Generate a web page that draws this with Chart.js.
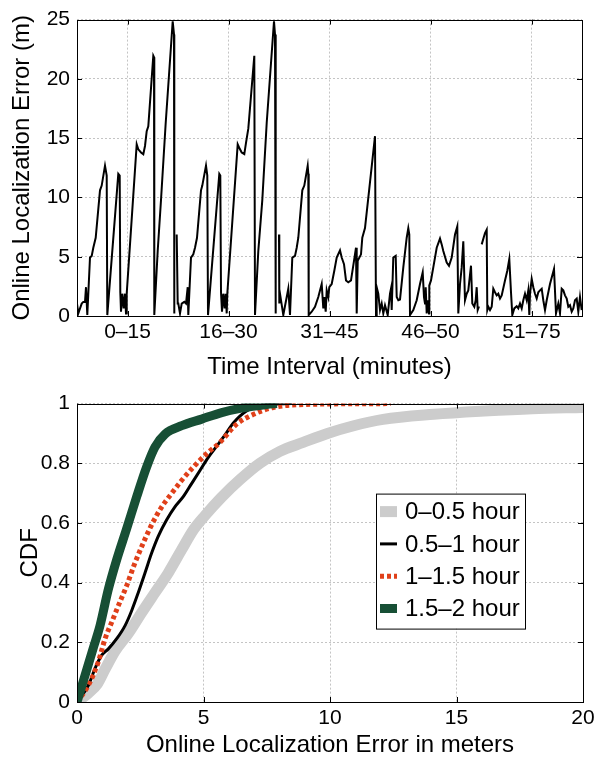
<!DOCTYPE html>
<html>
<head>
<meta charset="utf-8">
<script src="https://cdn.jsdelivr.net/npm/chart.js@4"></script>
<style>
body { margin: 0; background: #fff; }
.panel { width: 605px; height: 384px; }
canvas { display: block; }
</style>
</head>
<body>
<div class="panel"><canvas id="timeChart" width="605" height="384"></canvas></div>
<div class="panel"><canvas id="cdfChart" width="605" height="384"></canvas></div>
<script>
// --- top panel: error over time (x = sample index, ~101 samples per interval)
const intervals = ["0\u201315", "16\u201330", "31\u201345", "46\u201350", "51\u201375"];
const intervalMid = [50.5, 151.5, 252.5, 353.5, 454.5];

const sampleIdx = [
  0, 1.3, 4.7, 6.3, 8, 9, 10.3, 13, 14.7, 16.3, 18.7, 23, 24.7, 28, 29.7, 30.3,
  41.3, 42.7, 43.3, 44, 45.3, 46.7, 48, 49, 49.7, 59.7, 61.3, 64, 66.3, 68, 69.7, 71.3,
  76.3, 77, 77.3, 80.7, 84, 88.7, 95.7, 97, 97.3, 98.5, 99.7, 100.7,
  101.3, 103, 104.7, 107.3, 109, 110.7, 111.3, 114, 116.3, 118, 120, 124, 125.3, 129, 130.3, 131,
  142.3, 143.3, 144, 145, 146.3, 147.7, 148.7, 149.7, 150.3, 160.7, 163, 164.7, 167.3, 169, 171.3,
  177.3, 178, 181.3, 185.3, 189.7, 197, 198, 198.7, 200, 202, 202.3,
  203, 206.3, 211.3, 213, 215.3, 218, 219.7, 221.3, 225.3, 227.3, 230.7, 231.3, 231.7,
  234.7, 238, 241.3, 244.7, 246.3, 247.3, 248.7, 249.7, 251.3, 252.3, 254.7, 257.3, 259.7,
  263, 264.7, 267, 269, 271.3, 274, 277, 279, 279.7, 280.7, 284, 285.3, 288, 292.3, 298, 299,
  299.7, 301.3, 303, 304.7, 306.3, 308, 310.7, 313, 314, 314.7, 316.3, 318.7, 319.7, 321.3, 323,
  326.3, 329.7, 331.3, 332.3, 333, 336.3, 339.7, 343, 345.7, 347, 348, 348.7, 349.7, 350.7, 352,
  352.3, 354, 356.3, 359.7, 363, 364.7, 366.3, 369.7, 372, 374.7, 378, 380.3, 381.3, 383, 384.7,
  386.3, 388, 389.7, 391.3, 394, 395.3, 397.3, 398.7, 399.7, 400.7, 402, 403,
  404.7, 408, 409.7, 410.3, 411.3, 413, 414.7, 416.3, 418, 419.7, 421.3, 423, 424.7, 428, 430.3,
  432.3, 434, 435.3, 437.3, 439.7, 441.3, 443, 444.7, 446.3, 448, 449.7, 451.3, 452.3, 453, 454.7,
  456.3, 458, 459.7, 461.3, 463, 464.7, 466.3, 468, 469.7, 473, 477, 479, 481.3, 483, 484.7,
  486.3, 488, 489.7, 491.3, 493, 494.7, 496.3, 498, 499.7, 501.3, 503, 504.7
];
const errorM = [
  1.05, 0.22, 1.05, 1.19, 1.19, 2.43, 0.08, 4.93, 5.07, 5.76, 6.6, 10.6, 11.0, 12.68, 11.85, 0.08,
  11.99, 11.85, 2.02, 0.36, 1.88, 0.64, 1.88, 0.22, 1.88, 14.48, 14.06, 13.79, 13.65, 14.34, 15.59, 16.0,
  21.95, 21.82, 0.08, 5.48, 9.78, 16.28, 24.86, 23.75, 0.22, null, 6.87, 1.05,
  1.05, 0.22, 1.05, 1.19, 1.05, 2.43, 0.08, 4.93, 5.2, 5.76, 6.6, 10.6, 11.0, 12.68, 11.85, 0.08,
  11.99, 11.85, 2.02, 0.36, 1.88, 0.64, 1.88, 0.22, 1.88, 14.48, 14.06, 13.79, 13.65, 14.6, 15.8,
  21.95, 0.08, 5.48, 9.78, 16.28, 24.86, 23.75, 0.22, null, 6.87, 1.05,
  1.88, 0.08, 2.3, 0.08, 4.93, 5.07, 5.76, 6.6, 10.6, 11.0, 12.68, 12.0, 0.08,
  0.36, 0.78, 1.6, 2.7, 0.64, 1.6, 0.36, 2.16, 1.6, 2.43, 2.7, 3.82, 4.93,
  5.54, 4.93, 4.37, 3.0, 2.85, 3.0, 4.65, 5.76, 0.22, 4.65, 5.2, 6.6, 7.42, 10.74, 15.17, 0.08,
  2.43, 1.88, 0.5, 1.05, 0.22, 0.91, 0.08, 1.88, 2.3, 0.5, 4.93, 5.07, 1.6, 1.33, 1.39,
  4.1, 6.6, 7.4, 6.87, 0.08, 0.5, 1.33, 2.7, 3.68, 1.6, 1.05, 2.43, 0.22, 1.33, 0.22,
  2.57, 3.0, 4.1, 5.76, 6.53, 6.04, 5.48, 4.51, 4.24, 4.93, 6.87, 7.56, 0.22, 2.7, 4.1,
  6.3, 1.33, 1.88, 2.16, 4.24, 1.05, 0.78, 1.33, 2.43, 0.5, 0.8, null,
  6.04, 7.0, 7.28, 0.5, 0.78, 0.5, 0.78, 2.3, 2.0, 1.74, 1.88, 1.47, 1.74, 3.0, 3.82,
  4.8, 2.0, 0.08, 0.64, 0.83, 0.64, 1.05, 0.64, 1.33, 1.88, 1.33, 2.16, 0.08, 1.88, 3.13,
  2.43, 1.88, 1.47, 2.0, 2.16, 2.3, 1.33, 0.5, 1.33, 2.7, 3.96, 0.22, 1.05, 0.22, 2.3,
  2.16, 1.74, 1.47, 0.78, 0.91, 0.36, 0.64, 1.33, 1.47, 0.36, 1.6, 0.5
];

// --- bottom panel: CDF of online localization error
const cdfLabels = ["0\u20130.5 hour", "0.5\u20131 hour", "1\u20131.5 hour", "1.5\u20132 hour"];

const h0x = [0, 0.45, 0.8, 1.11, 1.5, 2.03, 2.56, 3.08, 3.61, 4.14, 4.6, 5.06, 5.7, 6.44, 7.23, 8.02, 8.94, 9.9, 10.9, 12.1, 14.1, 16.1, 18, 20];
const h0y = [0, 0.03, 0.06, 0.11, 0.17, 0.23, 0.3, 0.366, 0.433, 0.511, 0.577, 0.625, 0.685, 0.745, 0.8, 0.84, 0.87, 0.9, 0.925, 0.947, 0.964, 0.975, 0.983, 0.987];

const h1x = [0, 0.45, 0.71, 0.97, 1.24, 1.57, 1.9, 2.16, 2.42, 2.69, 2.95, 3.21, 3.54, 3.87, 4.2, 4.53, 4.86, 5.19, 5.59, 5.85, 6.18, 6.7, 7.35, 8.5];
const h1y = [0, 0.056, 0.112, 0.156, 0.178, 0.212, 0.256, 0.306, 0.366, 0.433, 0.499, 0.555, 0.61, 0.654, 0.688, 0.732, 0.776, 0.82, 0.865, 0.895, 0.935, 0.975, 0.995, 1.0];

const h2x = [0, 0.45, 0.84, 1.11, 1.37, 1.63, 1.96, 2.29, 2.62, 2.95, 3.35, 3.74, 4.14, 4.66, 5.19, 5.65, 6.31, 6.97, 7.76, 8.94, 12.4];
const h2y = [0, 0.056, 0.134, 0.212, 0.267, 0.322, 0.389, 0.466, 0.533, 0.594, 0.654, 0.699, 0.743, 0.793, 0.837, 0.87, 0.931, 0.964, 0.987, 0.997, 1.0];

const h3x = [0, 0.32, 0.64, 0.91, 1.24, 1.57, 1.96, 2.36, 2.75, 3.08, 3.48, 4.14, 4.93, 5.72, 6.5, 7.5, 7.9];
const h3y = [0, 0.09, 0.18, 0.256, 0.378, 0.477, 0.58, 0.688, 0.787, 0.854, 0.898, 0.926, 0.948, 0.97, 0.985, 0.997, 1.0];

const pts = (xs, ys) => xs.map((x, i) => ({ x: x, y: ys[i] }));

const FONT = "'Liberation Sans', Arial, Helvetica, sans-serif";
const tickFont = { family: FONT, size: 21 };
const titleFont = { family: FONT, size: 24 };

// matlab style box with inner tick marks
const boxPlugin = {
  id: "box",
  afterDraw(chart) {
    const { ctx, chartArea: a, scales } = chart;
    ctx.save();
    ctx.strokeStyle = "#000";
    ctx.lineWidth = 1;
    ctx.strokeRect(Math.round(a.left) + 0.5, Math.round(a.top) + 0.5, Math.round(a.right - a.left), Math.round(a.bottom - a.top));
    ctx.beginPath();
    scales.x.ticks.forEach(t => {
      const px = Math.round(scales.x.getPixelForValue(t.value)) + 0.5;
      ctx.moveTo(px, a.bottom); ctx.lineTo(px, a.bottom - 5);
      ctx.moveTo(px, a.top); ctx.lineTo(px, a.top + 5);
    });
    scales.y.ticks.forEach(t => {
      const py = Math.round(scales.y.getPixelForValue(t.value)) + 0.5;
      ctx.moveTo(a.left, py); ctx.lineTo(a.left + 5, py);
      ctx.moveTo(a.right, py); ctx.lineTo(a.right - 5, py);
    });
    ctx.stroke();
    ctx.restore();
  }
};

const gridOpts = { color: "#c4c4c4", lineWidth: 1, drawTicks: false };
const borderOpts = { display: false, dash: [2, 2] };

new Chart(document.getElementById("timeChart"), {
  type: "line",
  data: {
    datasets: [{
      data: pts(sampleIdx, errorM),
      borderColor: "#000",
      borderWidth: 2,
      pointRadius: 0,
      tension: 0,
      spanGaps: false
    }]
  },
  options: {
    responsive: false,
    animation: false,
    layout: { padding: { top: 15, right: 23, left: 0, bottom: 0 } },
    plugins: { legend: { display: false }, tooltip: { enabled: false } },
    scales: {
      x: {
        type: "linear", min: 0, max: 505,
        afterBuildTicks: s => { s.ticks = intervalMid.map(v => ({ value: v })); },
        afterFit: s => { s.height = 68; },
        ticks: { callback: (v, i) => intervals[i], color: "#000", font: tickFont, padding: 4, maxRotation: 0, autoSkip: false },
        grid: gridOpts, border: borderOpts,
        title: { display: true, text: "Time Interval (minutes)", color: "#000", font: titleFont, padding: { top: 0, bottom: 2 } }
      },
      y: {
        min: 0, max: 25,
        afterFit: s => { s.width = 77; },
        ticks: { stepSize: 5, color: "#000", font: tickFont, padding: 7 },
        grid: gridOpts, border: borderOpts,
        title: { display: true, text: "Online Localization Error (m)", color: "#000", font: titleFont, padding: { top: 8, bottom: 0 } }
      }
    }
  },
  plugins: [boxPlugin]
});

const cdfColors = ["#cccccc", "#000000", "#e0401a", "#174f35"];
const cdfWidths = [11, 3, 5, 9];

const legendPlugin = {
  id: "cdfLegend",
  afterDraw(chart) {
    const { ctx, chartArea: a } = chart;
    const x0 = a.right - 207, y0 = a.top + 90, w = 149, h = 135;
    ctx.save();
    ctx.fillStyle = "#fff";
    ctx.fillRect(x0, y0, w, h);
    ctx.strokeStyle = "#000";
    ctx.lineWidth = 1;
    ctx.strokeRect(x0 + 0.5, y0 + 0.5, w, h);
    ctx.font = "24px " + FONT;
    ctx.textBaseline = "middle";
    chart.data.datasets.forEach((ds, i) => {
      const cy = y0 + 18 + i * 32.3;
      ctx.beginPath();
      ctx.strokeStyle = ds.borderColor;
      ctx.lineWidth = ds.borderWidth;
      ctx.setLineDash(ds.borderDash || []);
      ctx.moveTo(x0 + 4, cy); ctx.lineTo(x0 + 21, cy);
      ctx.stroke();
      ctx.setLineDash([]);
      ctx.fillStyle = "#000";
      ctx.fillText(ds.label, x0 + 29, cy + 1);
    });
    ctx.restore();
  }
};

new Chart(document.getElementById("cdfChart"), {
  type: "line",
  data: {
    datasets: [
      { label: cdfLabels[0], data: pts(h0x, h0y), borderColor: cdfColors[0], borderWidth: cdfWidths[0], order: 4 },
      { label: cdfLabels[1], data: pts(h1x, h1y), borderColor: cdfColors[1], borderWidth: cdfWidths[1], order: 3 },
      { label: cdfLabels[2], data: pts(h2x, h2y), borderColor: cdfColors[2], borderWidth: cdfWidths[2], borderDash: [4, 3], order: 2 },
      { label: cdfLabels[3], data: pts(h3x, h3y), borderColor: cdfColors[3], borderWidth: cdfWidths[3], order: 1 }
    ].map(d => Object.assign(d, { pointRadius: 0, cubicInterpolationMode: "monotone", fill: false }))
  },
  options: {
    responsive: false,
    animation: false,
    layout: { padding: { top: 17, right: 22, left: 0, bottom: 0 } },
    plugins: { legend: { display: false }, tooltip: { enabled: false } },
    scales: {
      x: {
        type: "linear", min: 0, max: 20,
        afterFit: s => { s.height = 66; },
        ticks: { stepSize: 5, color: "#000", font: tickFont, padding: 4, maxRotation: 0 },
        grid: gridOpts, border: borderOpts,
        title: { display: true, text: "Online Localization Error in meters", color: "#000", font: titleFont, padding: { top: 0, bottom: 8 } }
      },
      y: {
        min: 0, max: 1,
        afterFit: s => { s.width = 77; },
        ticks: { stepSize: 0.2, color: "#000", font: tickFont, padding: 7, callback: v => String(+v.toFixed(1)) },
        grid: gridOpts, border: borderOpts,
        title: { display: true, text: "CDF", color: "#000", font: titleFont, padding: { top: 16, bottom: 0 } }
      }
    }
  },
  plugins: [boxPlugin, legendPlugin]
});
</script>
</body>
</html>
